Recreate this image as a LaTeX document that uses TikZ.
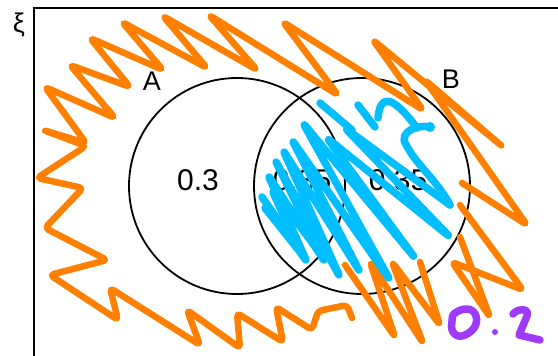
\documentclass[tikz,border=0pt]{standalone}
\usepackage{fontspec}
\setmainfont{Liberation Sans}
\definecolor{inkOrange}{RGB}{255,128,0}
\definecolor{inkBlue}{RGB}{0,190,255}
\definecolor{inkPurple}{RGB}{158,58,250}
\begin{document}
\begin{tikzpicture}[x=1pt,y=-1pt,
  frameline/.style={draw=black, line width=2pt},
  setcircle/.style={circle, draw=black, line width=1.8pt, minimum size=216pt, inner sep=0pt},
  setlabel/.style={inner sep=0pt, font=\fontsize{27}{30}\selectfont},
  prob/.style={inner sep=0pt, font=\fontsize{30}{33}\selectfont},
  orangeink/.style={draw=inkOrange, line width=6.5pt, line cap=round, line join=round, rounded corners=4pt},
  blueink/.style={draw=inkBlue, line width=7.5pt, line cap=round, line join=round, rounded corners=4pt},
  purpleink/.style={draw=inkPurple, line width=7.5pt, line cap=round, line join=round}]
\useasboundingbox (0,0) rectangle (558,356);

% universal set frame (open to the right and bottom)
\coordinate (fb) at (33.5,362);
\coordinate (fc) at (33.5,7.5);
\coordinate (fr) at (564,7.5);
\draw[frameline] (fb) -- (fc) -- (fr);
\node[setlabel] (xi) at (19,25) {ξ};

% the two sets
\node[setcircle] (A) at (237,186) {};
\node[setcircle] (B) at (362,186) {};
\node[setlabel] (labA) at (152,81) {A};
\node[setlabel] (labB) at (451,79) {B};

% probabilities
\node[prob] (pA) at (198,180) {0.3};
\node[prob] (pAB) at (302,180) {0.35};
\node[prob] (pB) at (398,180) {0.35};

% orange shading of the outside region
\draw[orangeink] (352,318) -- (347,305) -- (318,311) -- (312,330) -- (276,307)
  -- (283,342) -- (237,313) -- (240,348) -- (187,310) -- (200,345) -- (110,288)
  -- (118,320) -- (50,275) -- (107,260) -- (45,228) -- (83,188) -- (37,178)
  -- (86,146) -- (43,130) -- (86,143) -- (45,87) -- (115,118) -- (70,65)
  -- (130,87) -- (90,38) -- (163,70) -- (122,22) -- (207,68) -- (163,16)
  -- (257,70) -- (209,15) -- (338,95) -- (283,22) -- (423,110) -- (373,40)
  -- (503,147) -- (425,80) -- (527,225) -- (462,183);
\draw[orangeink] (460,237) -- (490,317) -- (452,262) -- (523,290) -- (460,205);
\draw[orangeink] (420,262) -- (440,325) -- (392,262) -- (423,343) -- (370,262)
  -- (395,337) -- (345,265);

% blue shading of B
\draw[blueink] (262,197) -- (307,262) -- (268,175) -- (325,262) -- (275,160)
  -- (340,277) -- (283,150) -- (360,272) -- (292,140) -- (390,280) -- (303,123)
  -- (415,258) -- (327,138) -- (450,237) -- (345,128) -- (450,205);
\draw[blueink] (265,208) -- (300,252) -- (272,190) -- (318,250);
\draw[blueink] (320,103) -- (352,130);
\draw[blueink] (358,105) -- (375,127);
\draw[blueink] (378,118) .. controls (380,96) and (390,92) .. (417,128);
\draw[blueink] (430,127) .. controls (418,124) and (398,132) .. (408,148)
  .. controls (418,165) and (440,185) .. (450,205);
\fill[inkBlue] (430,127) circle (5pt);

% handwritten remainder
\draw[purpleink] plot[smooth cycle, tension=0.7] coordinates
  {(455,313) (468,309) (476,316) (474,328) (462,336) (453,332) (452,321)};
\fill[inkPurple] (495,332) circle (3pt);
\draw[purpleink] (513,314) .. controls (518,308) and (530,308) .. (527,316)
  -- (519,335) -- (540,340);
\end{tikzpicture}
\end{document}
